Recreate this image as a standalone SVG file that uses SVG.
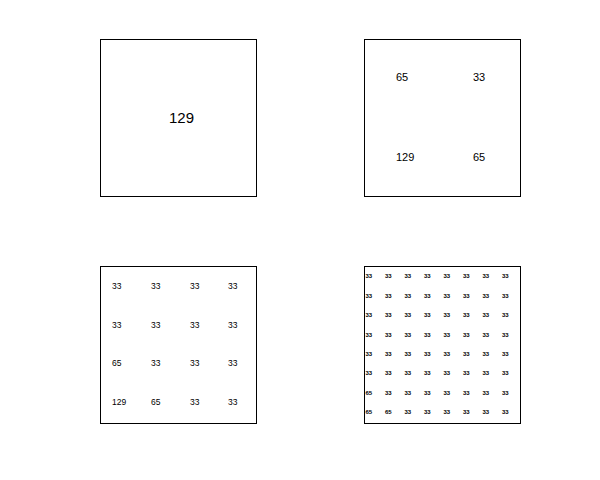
<svg xmlns="http://www.w3.org/2000/svg" width="600" height="480" viewBox="0 0 600 480">
<style>
rect.box{fill:#fff;stroke:#000;stroke-width:1}
text{font-family:"Liberation Sans",Arial,sans-serif;fill:#000}
.f1{font-size:15px}
.f2{font-size:11px}
.f3{font-size:8.5px}
.f4{font-size:6px;font-weight:bold}
</style>
<rect width="600" height="480" fill="#fff"/>
<g id="q1">
<rect class="box" x="100.5" y="39.5" width="156" height="157"/>
<text class="f1" x="169" y="123">129</text>
</g>
<g id="q2">
<rect class="box" x="364.5" y="39.5" width="156" height="157"/>
<text class="f2" x="396" y="81">65</text>
<text class="f2" x="473" y="81">33</text>
<text class="f2" x="396" y="161">129</text>
<text class="f2" x="473" y="161">65</text>
</g>
<g id="q3">
<rect class="box" x="100.5" y="266.5" width="156" height="157"/>
<g class="f3">
<text x="112" y="289">33</text><text x="151" y="289">33</text><text x="190" y="289">33</text><text x="228" y="289">33</text>
<text x="112" y="328">33</text><text x="151" y="328">33</text><text x="190" y="328">33</text><text x="228" y="328">33</text>
<text x="112" y="366">65</text><text x="151" y="366">33</text><text x="190" y="366">33</text><text x="228" y="366">33</text>
<text x="112" y="405">129</text><text x="151" y="405">65</text><text x="190" y="405">33</text><text x="228" y="405">33</text>
</g>
</g>
<g id="q4">
<rect class="box" x="364.5" y="266.5" width="156" height="157"/>
<g class="f4">
<text x="365.5" y="278">33</text><text x="385" y="278">33</text><text x="404.5" y="278">33</text><text x="424" y="278">33</text><text x="443.5" y="278">33</text><text x="463" y="278">33</text><text x="482.5" y="278">33</text><text x="502" y="278">33</text>
<text x="365.5" y="297.5">33</text><text x="385" y="297.5">33</text><text x="404.5" y="297.5">33</text><text x="424" y="297.5">33</text><text x="443.5" y="297.5">33</text><text x="463" y="297.5">33</text><text x="482.5" y="297.5">33</text><text x="502" y="297.5">33</text>
<text x="365.5" y="317">33</text><text x="385" y="317">33</text><text x="404.5" y="317">33</text><text x="424" y="317">33</text><text x="443.5" y="317">33</text><text x="463" y="317">33</text><text x="482.5" y="317">33</text><text x="502" y="317">33</text>
<text x="365.5" y="336.5">33</text><text x="385" y="336.5">33</text><text x="404.5" y="336.5">33</text><text x="424" y="336.5">33</text><text x="443.5" y="336.5">33</text><text x="463" y="336.5">33</text><text x="482.5" y="336.5">33</text><text x="502" y="336.5">33</text>
<text x="365.5" y="355.5">33</text><text x="385" y="355.5">33</text><text x="404.5" y="355.5">33</text><text x="424" y="355.5">33</text><text x="443.5" y="355.5">33</text><text x="463" y="355.5">33</text><text x="482.5" y="355.5">33</text><text x="502" y="355.5">33</text>
<text x="365.5" y="375">33</text><text x="385" y="375">33</text><text x="404.5" y="375">33</text><text x="424" y="375">33</text><text x="443.5" y="375">33</text><text x="463" y="375">33</text><text x="482.5" y="375">33</text><text x="502" y="375">33</text>
<text x="365.5" y="394.5">65</text><text x="385" y="394.5">33</text><text x="404.5" y="394.5">33</text><text x="424" y="394.5">33</text><text x="443.5" y="394.5">33</text><text x="463" y="394.5">33</text><text x="482.5" y="394.5">33</text><text x="502" y="394.5">33</text>
<text x="365.5" y="414">65</text><text x="385" y="414">65</text><text x="404.5" y="414">33</text><text x="424" y="414">33</text><text x="443.5" y="414">33</text><text x="463" y="414">33</text><text x="482.5" y="414">33</text><text x="502" y="414">33</text>
</g>
</g>
<g id="connectors"></g>
</svg>
